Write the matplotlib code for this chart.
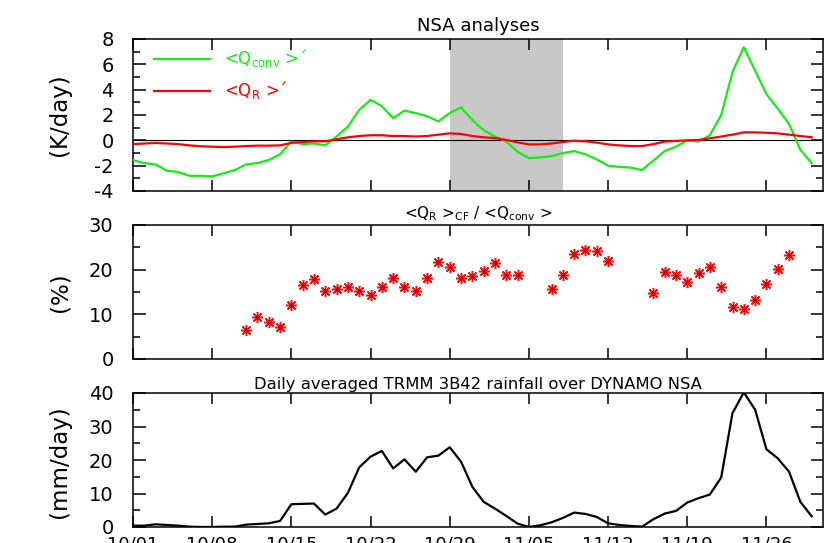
import numpy as np
import matplotlib
matplotlib.use("Agg")
import matplotlib.pyplot as plt
from matplotlib.ticker import MultipleLocator

plt.rcParams['font.family'] = ['DejaVu Sans']
plt.rcParams['axes.unicode_minus'] = False

# ---------------- data (daily, starting 10/01) ----------------
days = list(range(61))
tick_days = [0, 7, 14, 21, 28, 35, 42, 49, 56]
tick_labels = ['10/01', '10/08', '10/15', '10/22', '10/29', '11/05', '11/12', '11/19', '11/26']
shade_start, shade_end = 28, 38

q_conv = [-1.56, -1.8, -1.9, -2.4, -2.5, -2.8, -2.8, -2.85, -2.6, -2.35,
          -1.9, -1.8, -1.55, -1.1, -0.1, -0.3, -0.25, -0.4, 0.3, 1.1,
          2.4, 3.2, 2.7, 1.75, 2.35, 2.15, 1.9, 1.5, 2.15, 2.6,
          1.6, 0.8, 0.3, -0.1, -0.9, -1.4, -1.35, -1.25, -1.0, -0.85,
          -1.1, -1.5, -2.0, -2.1, -2.15, -2.35, -1.6, -0.85, -0.5, 0.0,
          -0.1, 0.4, 2.0, 5.4, 7.35, 5.5, 3.65, 2.5, 1.3, -0.75, -1.8]

q_r = [-0.3, -0.25, -0.2, -0.25, -0.3, -0.4, -0.47, -0.5, -0.53, -0.5,
       -0.45, -0.42, -0.42, -0.4, -0.2, -0.13, -0.08, -0.08, 0.08, 0.24,
       0.34, 0.4, 0.4, 0.34, 0.34, 0.3, 0.34, 0.45, 0.55, 0.5,
       0.34, 0.24, 0.18, 0.03, -0.16, -0.32, -0.32, -0.25, -0.13, -0.03,
       -0.08, -0.18, -0.32, -0.4, -0.45, -0.45, -0.3, -0.1, -0.05, 0.0,
       0.03, 0.16, 0.3, 0.45, 0.63, 0.63, 0.6, 0.55, 0.45, 0.34, 0.24]

nan = float('nan')
ratio = [nan, nan, nan, nan, nan, nan, nan, nan, nan, nan,
         6.55, 9.5, 8.2, 7.1, 12.0, 16.5, 18.0, 15.2, 15.6, 16.2,
         15.3, 14.3, 16.1, 18.2, 16.2, 15.3, 18.2, 21.8, 20.6, 18.1,
         18.6, 19.6, 21.4, 18.8, 18.8, nan, nan, 15.7, 18.9, 23.5,
         24.4, 24.2, 22.0, nan, nan, nan, 14.8, 19.5, 18.8, 17.3,
         19.3, 20.7, 16.2, 11.6, 11.2, 13.3, 16.8, 20.1, 23.3, nan, nan]

rain = [0.4, 0.4, 0.8, 0.6, 0.4, 0.1, 0.0, 0.0, 0.1, 0.1,
        0.7, 0.9, 1.1, 1.8, 6.8, 6.9, 7.0, 3.7, 5.5, 10.2,
        17.8, 21.0, 22.7, 17.5, 20.2, 16.5, 20.8, 21.3, 23.8, 19.5,
        12.0, 7.5, 5.5, 3.3, 1.0, 0.0, 0.5, 1.4, 2.7, 4.3,
        3.9, 3.0, 1.1, 0.6, 0.3, 0.1, 2.3, 4.0, 4.8, 7.3,
        8.6, 9.7, 14.8, 34.0, 40.2, 35.0, 23.2, 20.5, 16.5, 7.5, 3.2]

# ---------------- figure ----------------
W, H = 826, 543
fig = plt.figure(figsize=(W / 100, H / 100), dpi=100)

def add_axes(top_px, bot_px):
    left, right = 133, 823
    return fig.add_axes([left / W, 1 - bot_px / H, (right - left) / W, (bot_px - top_px) / H])

ax1 = add_axes(39, 191)
ax2 = add_axes(225, 359)
ax3 = add_axes(393, 527)

def style(ax, ymin, ymax, major, minor):
    ax.set_xlim(0, 61)
    ax.set_ylim(ymin, ymax)
    ax.set_xticks(tick_days)
    ax.yaxis.set_major_locator(MultipleLocator(major))
    ax.yaxis.set_minor_locator(MultipleLocator(minor))
    ax.tick_params(axis='both', which='both', direction='in', top=True, right=True,
                   width=1.1, labelsize=14, pad=14)
    ax.tick_params(axis='x', which='major', length=8)
    ax.tick_params(axis='y', which='major', length=9)
    ax.tick_params(axis='y', which='minor', length=5)
    ax.tick_params(axis='x', which='minor', bottom=False, top=False)
    for s in ax.spines.values():
        s.set_linewidth(1.1)

# Top panel
style(ax1, -4, 8, 2, 1)
ax1.axvspan(shade_start, shade_end, color='#c8c8c8', lw=0, zorder=0)
ax1.axhline(0, color='black', lw=0.8, zorder=1)
ax1.plot(days, q_conv, color='#11ee11', lw=1.6, label=r'<Q$_{\rm conv}$ >´', zorder=3)
ax1.plot(days, q_r, color='#ff0000', lw=1.6, label=r'<Q$_{\rm R}$ >´', zorder=3)
ax1.set_xticklabels([])
ax1.set_title('NSA analyses', fontsize=13, pad=6)
leg = ax1.legend(loc='upper left', bbox_to_anchor=(0.03, 0.945), borderaxespad=0, borderpad=0,
                 frameon=False, fontsize=12, handlelength=3.4, handletextpad=0.8,
                 labelspacing=0.6, labelcolor='linecolor')

# Middle panel
style(ax2, 0, 30, 10, 5)
ax2.plot(days, ratio, linestyle='none', marker=(8, 2, 0), markersize=8,
         markeredgewidth=1.1, color='#ff1010')
ax2.plot(days, ratio, linestyle='none', marker='o', markersize=2, color='#cc0000')
ax2.set_xticklabels([])
ax2.set_title(r'<Q$_{\rm R}$ >$_{\rm CF}$ / <Q$_{\rm conv}$ >', fontsize=11, pad=5)

# Bottom panel
style(ax3, 0, 40, 10, 5)
ax3.plot(days, rain, color='black', lw=1.6)
ax3.set_xticklabels(tick_labels)
ax3.tick_params(axis='x', labelsize=13, pad=6)
ax3.set_title('Daily averaged TRMM 3B42 rainfall over DYNAMO NSA', fontsize=11.8, pad=3)

# y labels
fig.text(60 / W, 1 - 115 / H, '(K/day)', rotation=90, ha='center', va='center', fontsize=16.5)
fig.text(60 / W, 1 - 292 / H, '(%)', rotation=90, ha='center', va='center', fontsize=16.5)
fig.text(60 / W, 1 - 462 / H, '(mm/day)', rotation=90, ha='center', va='center', fontsize=16.5)

fig.savefig('out.png', dpi=100)
